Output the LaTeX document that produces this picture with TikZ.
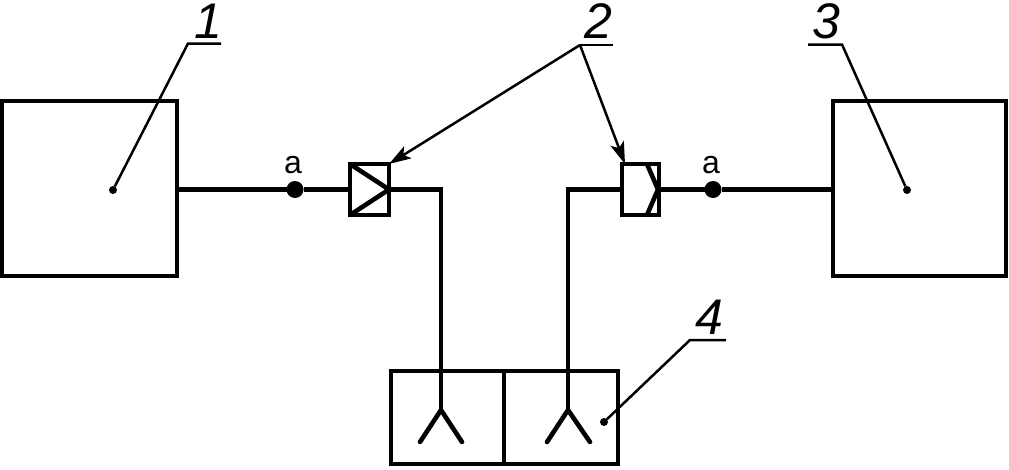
\documentclass[tikz,border=0pt]{standalone}
\usepackage{fontspec}
\setmainfont{Liberation Sans}
\usetikzlibrary{arrows.meta}
\tikzset{
  heavy/.style={line width=4.6pt,line join=miter},
  unitbox/.style={draw,heavy,inner sep=0pt,outer sep=0pt,minimum width=#1,minimum height=0pt},
  wire/.style={heavy},
  forkline/.style={line width=4.6pt,line cap=round,line join=miter},
  leader/.style={line width=2.5pt},
  tip/.style={leader,-{Stealth[length=22pt,width=14pt,inset=5pt]}},
  pin/.style={circle,fill=black,inner sep=0pt,outer sep=0pt,minimum size=8pt},
  junction/.style={circle,fill=black,inner sep=0pt,outer sep=0pt,minimum size=17pt},
  numeral/.style={inner sep=0pt,font=\fontsize{50}{50}\selectfont\itshape},
  letter/.style={inner sep=0pt,font=\fontsize{32}{32}\selectfont}
}
\begin{document}
\begin{tikzpicture}[x=1pt,y=-1pt]
\useasboundingbox (0,0) rectangle (1009,469);
% main boxes
\node[unitbox=175pt,minimum height=175pt] (u1) at (89.5,188.5) {};
\node[unitbox=173pt,minimum height=175pt] (u3) at (919.5,188.5) {};
% valves
\node[unitbox=39pt,minimum height=51pt] (va) at (369.5,189.5) {};
\node[unitbox=37pt,minimum height=51pt] (vb) at (640.5,189.5) {};
\draw[wire] (va.north west) -- (va.east) -- (va.south west);
\coordinate (cbt) at (647,164);
\coordinate (cbm) at (658,189.5);
\coordinate (cbb) at (647,215);
\draw[wire] (cbt) -- (cbm) -- (cbb);
% bottom block
\node[unitbox=113pt,minimum height=93pt] (pl) at (447.5,417.5) {};
\node[unitbox=114pt,minimum height=93pt] (pr) at (561,417.5) {};
% junction points
\node[junction] (ja) at (295,189.5) {};
\node[junction] (jb) at (713,189.5) {};
\node[letter] (la) at (293,165) {a};
\node[letter] (lb) at (711,165) {a};
% wires
\draw[wire] (u1.east |- ja) -- (ja) -- (va.west);
\draw[wire] (vb.east) -- (jb) -- (u3.west |- jb);
\coordinate (fa) at (441,410);
\coordinate (fb) at (568,410);
\coordinate (ka) at (441,189.5);
\coordinate (kb) at (568,189.5);
\draw[wire] (va.east) -- (ka) -- (fa);
\draw[wire] (vb.west) -- (kb) -- (fb);
% forks
\coordinate (fa1) at (420,442);
\coordinate (fa2) at (462,442);
\coordinate (fb1) at (547,442);
\coordinate (fb2) at (590,442);
\draw[forkline] (fa1) -- (fa) -- (fa2);
\draw[forkline] (fb1) -- (fb) -- (fb2);
% leaders
\node[pin] (p1) at (113,190) {};
\node[pin] (p3) at (907,190) {};
\node[pin] (p4) at (604,422) {};
\coordinate (k1) at (188,43.5);
\coordinate (e1) at (221,43.5);
\coordinate (k2) at (580,45);
\coordinate (e2) at (613,45);
\coordinate (k3) at (842,44.5);
\coordinate (e3) at (808,44.5);
\coordinate (k4) at (690,340);
\coordinate (e4) at (726,340);
\draw[leader] (p1) -- (k1) -- (e1);
\draw[leader] (p3) -- (k3) -- (e3);
\draw[leader] (p4) -- (k4) -- (e4);
\draw[leader] (e2) -- (k2);
\draw[tip] (k2) -- (va.north east);
\draw[tip] (k2) -- ([xshift=3pt]vb.north west);
% numerals
\node[numeral] (n1) at (208,21) {1};
\node[numeral] (n2) at (598,21) {2};
\node[numeral] (n3) at (826,21) {3};
\node[numeral] (n4) at (709,317) {4};
\end{tikzpicture}
\end{document}
